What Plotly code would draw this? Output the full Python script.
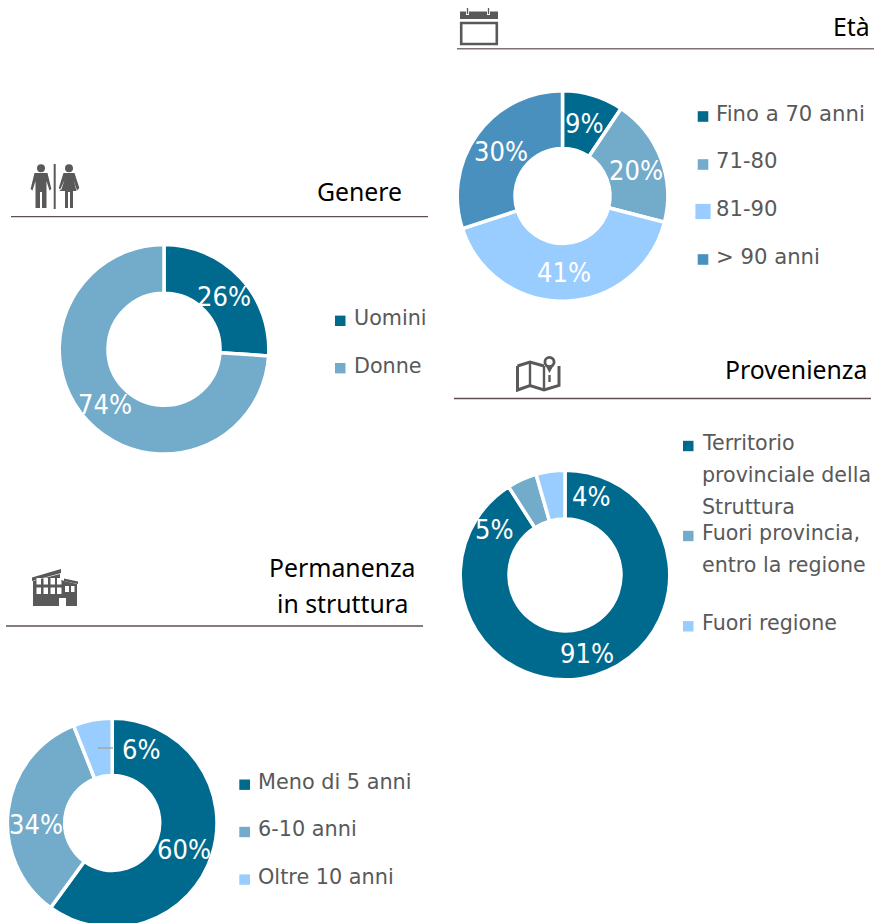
import plotly.graph_objects as go

W, H = 875, 935
DARK, MID, LIGHT, STEEL = "#006a8e", "#73abcb", "#99ccff", "#4a90bf"
GREY = "#595959"
LEGEND_FONT = "DejaVu Sans"
VALUE_FONT = "DejaVu Sans Condensed, DejaVu Sans"
TITLE_FONT = "Noto Sans"

genere_labels = ["Uomini", "Donne"]
genere_values = [26, 74]
eta_labels = ["Fino a 70 anni", "71-80", "81-90", "> 90 anni"]
eta_values = [9.4, 19.6, 41, 30]
prov_labels = ["Territorio<br>provinciale della<br>Struttura", "Fuori provincia,<br>entro la regione", "Fuori regione"]
prov_values = [90.95, 4.6, 4.45]
perm_labels = ["Meno di 5 anni", "6-10 anni", "Oltre 10 anni"]
perm_values = [60, 34, 6]


def px(x):
    return x / W


def py(y):
    return 1 - y / H


fig = go.Figure()
annotations, shapes = [], []


def text(x, y, s, size, color, font, anchor="left"):
    annotations.append(dict(x=px(x), y=py(y), xref="paper", yref="paper", text=s, showarrow=False,
                            xanchor=anchor, yanchor="middle", align=anchor,
                            font=dict(size=size, color=color, family=font),
                            borderpad=0, borderwidth=0))


def rect(x0, y0, x1, y1, color):
    shapes.append(dict(type="rect", xref="paper", yref="paper", x0=px(x0), x1=px(x1), y0=py(y1), y1=py(y0),
                       fillcolor=color, line=dict(width=0)))


def line(x0, y0, x1, y1, color, width):
    shapes.append(dict(type="line", xref="paper", yref="paper", x0=px(x0), x1=px(x1), y0=py(y0), y1=py(y1),
                       line=dict(color=color, width=width)))


def poly(points, fill=GREY, stroke=None, width=0, closed=True):
    d = "M " + " L ".join(f"{px(a):.5f},{py(b):.5f}" for a, b in points) + (" Z" if closed else "")
    shapes.append(dict(type="path", xref="paper", yref="paper", path=d,
                       fillcolor=fill if closed else "rgba(0,0,0,0)",
                       line=dict(color=stroke or "rgba(0,0,0,0)", width=width)))


def circle(cx, cy, r, color, stroke=None, width=0):
    shapes.append(dict(type="circle", xref="paper", yref="paper", x0=px(cx - r), x1=px(cx + r),
                       y0=py(cy + r), y1=py(cy - r), fillcolor=color,
                       line=dict(color=stroke or "rgba(0,0,0,0)", width=width)))


def donut(cx, cy, r, inner, values, labels, colors):
    R = r + 1.5
    fig.add_trace(go.Pie(values=values, labels=[l.replace("<br>", " ") for l in labels], sort=False,
                         direction="clockwise", rotation=0, hole=(inner - 1.5) / R, textinfo="none",
                         marker=dict(colors=colors, line=dict(color="white", width=3.5)),
                         domain=dict(x=[px(cx - R), px(cx + R)], y=[py(cy + R), py(cy - R)]),
                         showlegend=False))


donut(164, 349.3, 103.3, 57.5, genere_values, genere_labels, [DARK, MID])
donut(562.5, 196, 103.8, 49, eta_values, eta_labels, [DARK, MID, LIGHT, STEEL])
donut(565, 575, 103.3, 57.5, prov_values, prov_labels, [DARK, MID, LIGHT])
donut(112.2, 823, 103.3, 49, perm_values, perm_labels, [DARK, MID, LIGHT])

VS = 27
for (x, y), v in zip([(224, 296), (105, 405)], genere_values):
    text(x, y, f"{v:.0f}%", VS, "white", VALUE_FONT, "center")
for (x, y), v in zip([(584, 123), (635.5, 170), (563.7, 272.7), (501, 151)], eta_values):
    text(x, y, f"{v:.0f}%", VS, "white", VALUE_FONT, "center")
for (x, y), v in zip([(587, 653), (494.7, 529), (591, 496)], prov_values):
    text(x, y, f"{v:.0f}%", VS, "white", VALUE_FONT, "center")
for (x, y), v in zip([(184, 849), (35.7, 824), (141.7, 749.3)], perm_values):
    text(x, y, f"{v:.0f}%", VS, "white", VALUE_FONT, "center")
line(97.7, 748, 113, 748, "#a6a6a6", 1.5)

TS = 24.8
text(402, 191, "Genere", TS, "black", TITLE_FONT, "right")
text(870, 26, "Età", TS, "black", TITLE_FONT, "right")
text(866.8, 369, "Provenienza", TS, "black", TITLE_FONT, "right")
text(342, 567, "Permanenza", TS, "black", TITLE_FONT, "center")
text(342, 603, "in struttura", TS, "black", TITLE_FONT, "center")
line(11, 216.7, 428, 216.7, "#5f4f4f", 1.3)
line(457, 48.7, 874, 48.7, "#7f7270", 1.6)
line(454, 398.5, 871, 398.5, "#5f4f4f", 1.3)
line(6, 626, 423, 626, "#5f4f4f", 1.3)

LS = 20.7
for (sy, ty), s, c in zip([(320.8, 317.5), (368.2, 366)], genere_labels, [DARK, MID]):
    rect(335, sy - 5.2, 345.5, sy + 5.2, c)
    text(354, ty, s, LS, GREY, LEGEND_FONT)
for (sy, ty), s, c, k in zip([(116.5, 113), (164.5, 161), (211.5, 208.5), (259.5, 256)], eta_labels,
                             [DARK, MID, LIGHT, STEEL], [5.3, 5.3, 7.6, 5.3]):
    rect(703 - k, sy - k, 703 + k, sy + k, c)
    text(716, ty, s, 21.2, GREY, LEGEND_FONT)
for sy, tys, s, c in zip([446, 536, 626.3], [(443, 475, 507), (533, 565), (622.5,)],
                         prov_labels, [DARK, MID, LIGHT]):
    rect(683, sy - 5.2, 693.5, sy + 5.2, c)
    for ty, part in zip(tys, s.split("<br>")):
        text(702, ty, part, 20.6, GREY, LEGEND_FONT)
for (sy, ty), s, c in zip([(784.7, 781.5), (832, 828.5), (879.6, 876.5)], perm_labels, [DARK, MID, LIGHT]):
    rect(239.3, sy - 5.2, 250, sy + 5.2, c)
    text(258, ty, s, 20.8, GREY, LEGEND_FONT)

# Icon: man / woman
circle(41, 168.2, 4, GREY)
poly([(34.5, 173), (47.5, 173), (51.3, 189), (49.5, 190.5), (46.5, 181), (46.5, 208), (42, 208), (42, 192), (40, 192),
      (40, 208), (35.5, 208), (35.5, 181), (32.5, 190.5), (30.6, 189)])
line(54.7, 164, 54.7, 209, GREY, 2)
circle(69, 168.2, 4, GREY)
poly([(63.5, 173), (74.5, 173), (79.3, 188), (77, 190.5), (73.5, 180), (76.5, 191), (73, 191), (73, 208), (70, 208),
      (70, 192), (68, 192), (68, 208), (65, 208), (65, 191), (59.5, 191), (64.5, 180), (61, 190.5), (58.8, 188)])

# Icon: calendar
poly([(460, 11.5), (466, 11.5), (466, 15), (469, 15), (469, 11.5), (487, 11.5), (487, 15), (490, 15), (490, 11.5),
      (498, 11.5), (498, 19), (460, 19)])
line(467.5, 8, 467.5, 14, GREY, 1.3)
line(488.5, 8, 488.5, 14, GREY, 1.3)
rect(461.2, 23, 496.8, 44, "rgba(0,0,0,0)")
shapes[-1]["line"] = dict(color=GREY, width=2.6)

# Icon: map with pin
poly([(517.5, 366), (530, 362), (544, 366)], stroke=GREY, width=3, closed=False)
poly([(517.5, 366), (517.5, 390), (530, 385.5), (544, 390), (559, 385.5), (559, 366)],
     stroke=GREY, width=3, closed=False)
line(530, 362, 530, 385.5, GREY, 2.4)
line(544, 366, 544, 390, GREY, 2.4)
circle(549.5, 362, 4.6, "white", GREY, 2.8)
poly([(545.5, 365.5), (553.5, 365.5), (549.5, 373)])
line(549.5, 375, 549.5, 382, GREY, 2.4)

# Icon: building
poly([(32, 577.5), (61, 569), (61, 573), (32, 581)])
poly([(64, 578.5), (78, 581.5), (78, 584), (64, 581)])
poly([(33, 581), (60, 574), (60, 579), (64, 581), (77, 584), (77, 606), (66, 606), (66, 598), (59, 598),
      (59, 606), (33, 606)])
for gx in [36.5, 43.5, 50.5, 57]:
    for gy in [578, 587.5]:
        rect(gx, gy, gx + 4.5, gy + 6.5, "white")
rect(65, 586, 69, 592, "white")
rect(71, 586, 74.5, 592, "white")

fig.update_layout(width=W, height=H, autosize=False, margin=dict(l=0, r=0, t=0, b=0), paper_bgcolor="white",
                  plot_bgcolor="white", showlegend=False, annotations=annotations, shapes=shapes)
fig.write_html("out.html", config=dict(displayModeBar=False),
               post_script="document.body.style.margin='0';document.documentElement.style.overflow='hidden';document.body.style.overflow='hidden';")
